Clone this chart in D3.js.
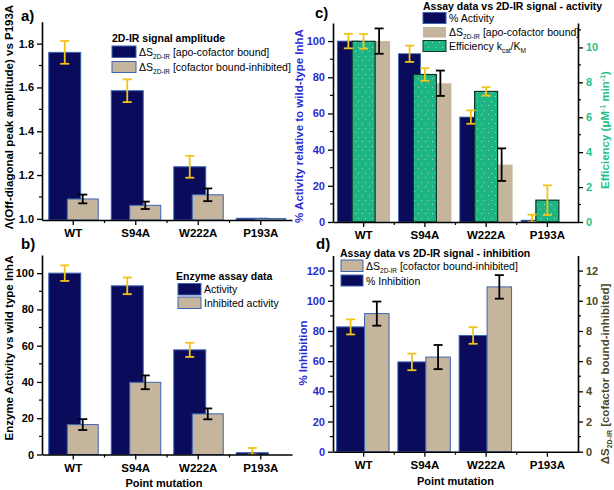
<!DOCTYPE html>
<html><head><meta charset="utf-8">
<script src="https://cdn.jsdelivr.net/npm/d3@7"></script>
<style>
body{margin:0;background:#fff;}
svg text{font-family:"Liberation Sans",Arial,sans-serif;}
</style></head><body>
<svg id="chart" width="614" height="490"></svg>
<script>
const categories = ["WT","S94A","W222A","P193A"];
// panel a : 2D-IR signal amplitude
const aApo = [1.76,1.585,1.238,1.003];
const aApoErr = [0.052,0.052,0.05,0];
const aInh = [1.091,1.062,1.11,1.002];
const aInhErr = [0.02,0.017,0.029,0];
// panel b : enzyme assay data
const bActivity = [100,93,57.7,1];
const bActivityErr = [4.3,4.6,3.9,2.6];
const bInhibited = [16.5,39.8,22.4,0];
const bInhibitedErr = [3,3.8,3,0];
// panel c : assay vs 2D-IR activity
const cActivity = [100,93,58,1];
const cActivityErr = [4,4.5,3.7,3];
const cApoPct = [100,76.7,31.7,0];
const cApoPctErr = [7,7,9,0];
const cEfficiency = [10.35,8.45,7.48,1.25];
const cEfficiencyErr = [0.42,0.36,0.24,0.85];
// panel d : assay vs 2D-IR inhibition
const dInhibition = [82.7,59.5,77,0];
const dInhibitionErr = [5,5.5,5.5,0];
const dInhDS = [9.15,6.27,10.92,0];
const dInhDSErr = [0.8,0.8,0.78,0];
// tick labels
const aTicks = [1.0,1.2,1.4,1.6,1.8];
const bTicks = [0,20,40,60,80,100];
const cLeftTicks = [0,20,40,60,80,100];
const cRightTicks = [0,2,4,6,8,10];
const dLeftTicks = [0,20,40,60,80,100,120];
const dRightTicks = [0,2,4,6,8,10,12];

const NAVY="#0b0b5c", EDGE="#3d64b2", TAN="#c4b59c", GREEN="#1eb585", GREEN_EDGE="#0b3526",
      YEL="#f2c41a", BLUE="#2b2bd6", GTXT="#1dbf8a", OLIVE="#4d4626";

const svg = d3.select("#chart");
svg.append("rect").attr("width",614).attr("height",490).attr("fill","#fff");
const defs = svg.append("defs");
const pat = defs.append("pattern").attr("id","dots").attr("patternUnits","userSpaceOnUse").attr("width",7).attr("height",9);
pat.append("rect").attr("width",7).attr("height",9).attr("fill",GREEN);
pat.append("rect").attr("x",1).attr("y",2).attr("width",1).attr("height",1).attr("fill","#9fd6c0");
pat.append("rect").attr("x",5).attr("y",6).attr("width",1).attr("height",1).attr("fill","#b7c9c0");

function xAxis(g, xs, y){
  const ax = d3.axisBottom(xs).tickSize(5).tickSizeOuter(0).tickPadding(4);
  const gg = g.append("g").attr("transform",`translate(0,${y})`).call(ax);
  gg.select(".domain").attr("stroke","#000").attr("stroke-width",1.6);
  gg.selectAll(".tick line").attr("stroke","#000").attr("stroke-width",1.3);
  gg.selectAll(".tick text").attr("font-size",11.5).attr("font-weight","bold").attr("fill","#000")
    .attr("font-family","Liberation Sans, Arial, sans-serif");
  gg.selectAll(".mnx").data(categories.slice(1)).enter().append("line")
    .attr("x1",d=>xs(d)).attr("x2",d=>xs(d)).attr("y1",0).attr("y2",3)
    .attr("stroke","#000").attr("stroke-width",1.2);
}
function yAxis(g, ys, x, ticks, minorStep, orient, color, fmt){
  const ax = (orient==="left"?d3.axisLeft(ys):d3.axisRight(ys)).tickValues(ticks).tickSize(5).tickSizeOuter(0).tickPadding(3).tickFormat(fmt);
  const gg = g.append("g").attr("transform",`translate(${x},0)`).call(ax);
  gg.select(".domain").attr("stroke","#000").attr("stroke-width",1.6);
  gg.selectAll(".tick line").attr("stroke","#000").attr("stroke-width",1.3);
  gg.selectAll(".tick text").attr("font-size",11).attr("font-weight","bold").attr("fill",color)
    .attr("font-family","Liberation Sans, Arial, sans-serif");
  const dom = ys.domain();
  const minors = d3.range(ticks[0]+minorStep, dom[1], minorStep*2).filter(v=>v>dom[0]);
  const s = orient==="left"?-3:3;
  gg.selectAll(".mny").data(minors).enter().append("line")
    .attr("x1",0).attr("x2",s).attr("y1",d=>ys(d)).attr("y2",d=>ys(d))
    .attr("stroke","#000").attr("stroke-width",1.2);
}
function bars(g, xs, ys, vals, off, w, fill, stroke, sw){
  const base = ys(ys.domain()[0]);
  const c = d => xs(d)+xs.bandwidth()/2;
  g.append("g").selectAll("rect").data(categories).enter().append("rect")
    .attr("x",(d)=>c(d)+off-w/2).attr("width",w)
    .attr("y",(d,i)=>ys(vals[i])).attr("height",(d,i)=>Math.max(0,base-ys(vals[i])))
    .attr("fill",fill).attr("stroke",stroke||"none").attr("stroke-width",sw||1);
}
function errs(g, xs, ys, vals, es, off, color){
  const c = d => xs(d)+xs.bandwidth()/2;
  const gg = g.append("g").attr("stroke",color).attr("stroke-width",1.8).attr("fill","none");
  categories.forEach((d,i)=>{
    if(!es[i]) return;
    const x = c(d)+off, lo = Math.min(ys(vals[i]-es[i]), ys(ys.domain()[0])), hi = ys(vals[i]+es[i]);
    gg.append("line").attr("x1",x).attr("x2",x).attr("y1",lo).attr("y2",hi);
    gg.append("line").attr("x1",x-4.5).attr("x2",x+4.5).attr("y1",lo).attr("y2",lo);
    gg.append("line").attr("x1",x-4.5).attr("x2",x+4.5).attr("y1",hi).attr("y2",hi);
  });
}
function txt(g, x, y, s, opt){
  opt = opt||{};
  const t = g.append("text").attr("x",x).attr("y",y).attr("font-size",opt.size||10.5)
    .attr("font-weight",opt.bold?"bold":"normal").attr("fill",opt.color||"#000")
    .attr("text-anchor",opt.anchor||"start");
  if(s) t.append("tspan").text(s);
  if(opt.rot) t.attr("transform",`rotate(${opt.rot},${x},${y})`);
  return t;
}
function dsLabel(t, rest, subSize){
  t.append("tspan").text("ΔS");
  t.append("tspan").text("2D-IR").attr("font-size",subSize||6.5).attr("dy",3);
  t.append("tspan").text(rest).attr("dy",-3);
}
function legendBox(g,x,y,w,h,fill,stroke){
  g.append("rect").attr("x",x).attr("y",y).attr("width",w).attr("height",h).attr("fill",fill)
   .attr("stroke",stroke||"none").attr("stroke-width",1);
}

// ---------- panel a ----------
const xa = d3.scaleBand().domain(categories).range([42,292]);
const ya = d3.scaleLinear().domain([0.995,1.9]).range([220,21.7]);
const ga = svg.append("g");
bars(ga, xa, ya, aApo, -8.5, 32, NAVY, EDGE, 1);
bars(ga, xa, ya, aInh, 9.5, 31, TAN, EDGE, 1);
errs(ga, xa, ya, aApo, aApoErr, -8.5, YEL);
errs(ga, xa, ya, aInh, aInhErr, 9.5, "#000");
xAxis(ga, xa, 220);
yAxis(ga, ya, 42, aTicks, 0.1, "left", "#000", d3.format(".1f"));
txt(ga, 9, 117, "Λ(Off-diagonal peak amplitude) vs P193A", {bold:true,size:11.5,anchor:"middle",rot:-90}).attr("dy","0.35em");
txt(ga, 21, 21, "a)", {bold:true,size:15});
txt(ga, 112, 41.5, "2D-IR signal amplitude", {bold:true,size:10.5});
legendBox(ga,112,46,24,11.5,NAVY,EDGE);
dsLabel(txt(ga,139,56,"",{size:10.5})," [apo-cofactor bound]");
legendBox(ga,112,61.5,24,11,TAN,EDGE);
dsLabel(txt(ga,139,71,"",{size:10.5})," [cofactor bound-inhibited]");

// ---------- panel b ----------
const xb = d3.scaleBand().domain(categories).range([42,292]);
const yb = d3.scaleLinear().domain([0,110]).range([454.5,255]);
const gb = svg.append("g");
bars(gb, xb, yb, bActivity, -8.5, 32, NAVY, EDGE, 1);
bars(gb, xb, yb, bInhibited, 9.5, 31, TAN, EDGE, 1);
errs(gb, xb, yb, bActivity, bActivityErr, -8.5, YEL);
errs(gb, xb, yb, bInhibited, bInhibitedErr, 9.5, "#000");
xAxis(gb, xb, 454.5);
yAxis(gb, yb, 42, bTicks, 10, "left", "#000", d3.format("d"));
txt(gb, 9, 348, "Enzyme Activity vs wild type InhA", {bold:true,size:11.5,anchor:"middle",rot:-90}).attr("dy","0.35em");
txt(gb, 164, 487, "Point mutation", {bold:true,size:11,anchor:"middle"});
txt(gb, 21, 249, "b)", {bold:true,size:15});
txt(gb, 176, 280, "Enzyme assay data", {bold:true,size:10.5});
legendBox(gb,178,283.5,23,11.5,NAVY,EDGE);
txt(gb,204,293,"Activity",{size:10.5});
legendBox(gb,178,297,23,11.5,TAN,EDGE);
txt(gb,204,306.5,"Inhibited activity",{size:10.5});

// ---------- panel c ----------
const xc = d3.scaleBand().domain(categories).range([333,578]);
const yc = d3.scaleLinear().domain([0,110]).range([222,23]);
const yc2 = d3.scaleLinear().domain([0,11.4]).range([222,23]);
const gc = svg.append("g");
bars(gc, xc, yc, cActivity, -15.3, 22, NAVY, EDGE, 0.8);
bars(gc, xc, yc, cApoPct, 15.5, 22, TAN, null);
bars(gc, xc, yc2, cEfficiency, 0, 23, "url(#dots)", GREEN_EDGE, 1.2);
errs(gc, xc, yc, cActivity, cActivityErr, -15.3, YEL);
errs(gc, xc, yc2, cEfficiency, cEfficiencyErr, 0, YEL);
errs(gc, xc, yc, cApoPct, cApoPctErr, 15.5, "#000");
xAxis(gc, xc, 222);
yAxis(gc, yc, 333, cLeftTicks, 10, "left", BLUE, d3.format("d"));
yAxis(gc, yc2, 578, cRightTicks, 1, "right", GTXT, d3.format("d"));
txt(gc, 299, 126, "% Activity relative to wild-type InhA", {bold:true,size:11.5,anchor:"middle",color:BLUE,rot:-90}).attr("dy","0.35em");
const ceff = txt(gc, 605, 130, "", {bold:true,size:11.5,anchor:"middle",color:GTXT,rot:-90}).attr("dy","0.35em");
ceff.append("tspan").text("Efficiency (μM");
ceff.append("tspan").text("-1").attr("font-size",7).attr("dy",-4);
ceff.append("tspan").text(" min").attr("dy",4);
ceff.append("tspan").text("-1").attr("font-size",7).attr("dy",-4);
ceff.append("tspan").text(")").attr("dy",4);
txt(gc, 315, 18, "c)", {bold:true,size:15});
txt(gc, 423, 9.5, "Assay data vs 2D-IR signal - activity", {bold:true,size:10.5});
legendBox(gc,423,12.5,23,11,NAVY,EDGE);
txt(gc,449,22,"% Activity",{size:10.5});
legendBox(gc,423,27,23,10.5,TAN,null);
dsLabel(txt(gc,449,36,"",{size:10.5})," [apo-cofactor bound]");
legendBox(gc,423,40.5,23,11,"url(#dots)",GREEN_EDGE);
const kt = txt(gc,449,50,"Efficiency k",{size:10.5});
kt.append("tspan").text("cat").attr("font-size",6.5).attr("dy",3);
kt.append("tspan").text("/K").attr("dy",-3);
kt.append("tspan").text("M").attr("font-size",6.5).attr("dy",3);

// ---------- panel d ----------
const xd = d3.scaleBand().domain(categories).range([333,578]);
const yd = d3.scaleLinear().domain([0,130]).range([451.7,255.5]);
const yd2 = d3.scaleLinear().domain([0,13]).range([451.7,255.5]);
const gd = svg.append("g");
bars(gd, xd, yd, dInhibition, -13, 28, NAVY, EDGE, 1);
bars(gd, xd, yd2, dInhDS, 13.2, 24.5, TAN, EDGE, 1);
errs(gd, xd, yd, dInhibition, dInhibitionErr, -13, YEL);
errs(gd, xd, yd2, dInhDS, dInhDSErr, 13.2, "#000");
xAxis(gd, xd, 451.7);
yAxis(gd, yd, 333, dLeftTicks, 10, "left", BLUE, d3.format("d"));
yAxis(gd, yd2, 578, dRightTicks, 1, "right", OLIVE, d3.format("d"));
txt(gd, 303, 353, "% Inhibition", {bold:true,size:11.5,anchor:"middle",color:BLUE,rot:-90}).attr("dy","0.35em");
const dr = txt(gd, 605, 374, "", {bold:true,size:11.5,anchor:"middle",color:OLIVE,rot:-90}).attr("dy","0.35em");
dsLabel(dr," [cofactor bound-inhibited]",7);
txt(gd, 455.5, 485, "Point mutation", {bold:true,size:11,anchor:"middle"});
txt(gd, 316, 249, "d)", {bold:true,size:15});
txt(gd, 340, 256.5, "Assay data vs 2D-IR signal - inhibition", {bold:true,size:10.5});
legendBox(gd,341,260,22,11.5,TAN,EDGE);
dsLabel(txt(gd,366,270,"",{size:10.5})," [cofactor bound-inhibited]");
legendBox(gd,341,275,22,11,NAVY,EDGE);
txt(gd,366,285,"% Inhibition",{size:10.5});
</script>
</body></html>
